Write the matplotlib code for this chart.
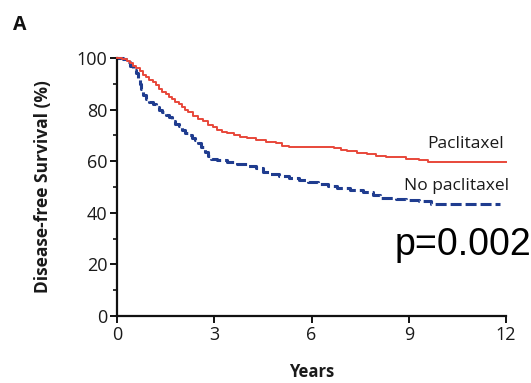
import matplotlib
matplotlib.use("Agg")
import matplotlib.pyplot as plt

# Data (Kaplan-Meier steps)
pac_t = [0, 0.15, 0.3, 0.4, 0.5, 0.6, 0.7, 0.8, 0.9, 1.0, 1.1, 1.2, 1.3, 1.4, 1.5, 1.6, 1.7,
         1.8, 1.9, 2.0, 2.1, 2.2, 2.35, 2.5, 2.65, 2.8, 2.95, 3.1, 3.25, 3.4, 3.6, 3.8, 4.0,
         4.3, 4.6, 4.9, 5.1, 5.3, 6.7, 6.9, 7.1, 7.4, 7.7, 8.0, 8.3, 8.9, 9.3, 9.6, 12]
pac_v = [100, 99.5, 99, 98, 97, 96, 95, 93.5, 92.5, 91.5, 90.5, 89.5, 88, 87, 86, 85, 84,
         83, 82, 81, 80, 79, 77.5, 76.5, 75.5, 74.2, 73.2, 72.2, 71.4, 70.8, 70, 69.3, 68.8,
         68.2, 67.6, 67, 66, 65.5, 65, 64.5, 64, 63.3, 62.8, 62, 61.6, 61, 60.4, 59.5, 59.5]

nopac_t = [0, 0.2, 0.3, 0.4, 0.5, 0.6, 0.65, 0.7, 0.75, 0.8, 0.9, 1.0, 1.1, 1.2, 1.3, 1.4,
           1.5, 1.6, 1.7, 1.8, 1.9, 2.0, 2.1, 2.2, 2.3, 2.4, 2.5, 2.6, 2.7, 2.8, 2.9, 3.1,
           3.4, 3.7, 4.0, 4.3, 4.5, 4.7, 5.0, 5.3, 5.6, 5.9, 6.2, 6.5, 6.8, 7.2, 7.6, 7.9,
           8.1, 8.6, 8.9, 9.3, 9.7, 11.8]
nopac_v = [100, 99.5, 98.5, 97, 95.5, 94, 92, 90, 88, 85.5, 84, 83, 82, 81, 80, 79,
           78, 77, 75.5, 74.5, 73.5, 72, 71, 70, 69, 68.2, 67, 65.5, 63.5, 62, 60.8, 60.4,
           59.8, 59, 58.2, 57.2, 56, 55.2, 54.4, 53.5, 52.7, 51.8, 51, 50.2, 49.6, 48.8, 48, 47,
           45.7, 45.5, 45, 44.4, 43.6, 43.6]

x_ticks = [0, 3, 6, 9, 12]
y_ticks = [0, 20, 40, 60, 80, 100]
series_labels = ["Paclitaxel", "No paclitaxel"]
p_text = "p=0.002"

fig = plt.figure(figsize=(5.31, 3.83), dpi=100)
ax = fig.add_axes([0.2203, 0.1749, 0.7327, 0.6737])

ax.step(pac_t, pac_v, where="post", color="#e8473a", lw=1.4, clip_on=False, zorder=3)
ax.step(nopac_t, nopac_v, where="post", color="#1f3c8f", lw=2.2,
        dashes=(3.6, 1.3), clip_on=False, zorder=2)

ax.set_xlim(0, 12)
ax.set_ylim(0, 100)
for s in ["top", "right"]:
    ax.spines[s].set_visible(False)
for s in ["left", "bottom"]:
    ax.spines[s].set_linewidth(1.6)
    ax.spines[s].set_color("#111111")

ax.set_xticks(x_ticks)
ax.set_yticks(y_ticks)
ax.set_yticks([10, 30, 50, 70, 90], minor=True)
ax.tick_params(axis="both", which="major", length=5, width=1.4, colors="#111111",
               labelsize=13, pad=2)
ax.tick_params(axis="y", which="minor", length=3, width=1.2, colors="#111111")
for lab in ax.get_xticklabels() + ax.get_yticklabels():
    lab.set_fontfamily("Open Sans")
    lab.set_color("#1a1a1a")

ax.set_ylabel("Disease-free Survival (%)", fontsize=12.5, fontweight="bold",
              fontfamily="Open Sans", color="#1a1a1a", labelpad=18)
ax.set_xlabel("Years", fontsize=12, fontweight="bold", fontfamily="Open Sans",
              color="#1a1a1a", labelpad=14)

ax.text(11.95, 66.5, series_labels[0], ha="right", va="center", fontsize=12.5,
        fontfamily="Open Sans", color="#1a1a1a")
ax.text(12.1, 50.5, series_labels[1], ha="right", va="center", fontsize=12.5,
        fontfamily="Open Sans", color="#1a1a1a")

fig.text(395 / 531, 1 - 255 / 383, p_text, ha="left", va="baseline", fontsize=27,
         fontfamily="Liberation Sans", color="black")
fig.text(20 / 531, 1 - 25 / 383, "A", ha="center", va="center", fontsize=14,
         fontweight="bold", fontfamily="Open Sans", color="#111111")

fig.savefig("out.png", dpi=100)
